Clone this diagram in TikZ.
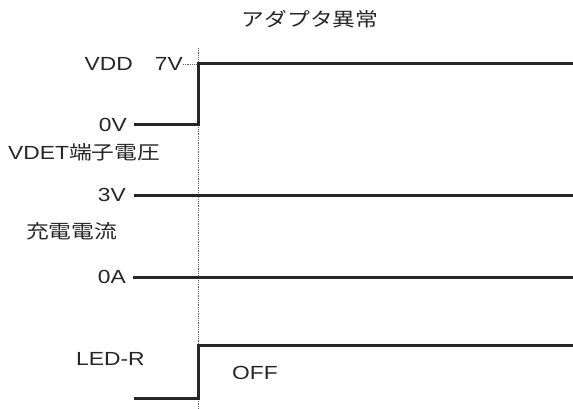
\documentclass[tikz,border=0pt]{standalone}
\usepackage{fontspec}
\setmainfont{Liberation Sans}[FakeStretch=1.2]
\newfontfamily\cjk{Noto Sans CJK JP}[FakeStretch=1.2]
\begin{document}
\begin{tikzpicture}[x=1pt,y=-1pt,
  lbl/.style={inner sep=0pt, font=\fontsize{19}{23}\selectfont, text height=13.7pt, text depth=0pt, text=black!85},
  wave/.style={line width=3pt, line join=miter, black!85},
  guide/.style={densely dotted, line width=0.8pt, black!60}]
\useasboundingbox (0,0) rectangle (573,409);
% labels
\node[lbl] (title) at (310,20) {\cjk アダプタ異常};
\node[lbl,anchor=east] (vdd) at (133,64) {VDD};
\node[lbl,anchor=east] (v7) at (183,64) {7V};
\node[lbl,anchor=east] (v0) at (127,125) {0V};
\node[lbl,anchor=west] (vdet) at (8,153) {VDET{\cjk 端子電圧}};
\node[lbl,anchor=east] (v3) at (126,195) {3V};
\node[lbl,anchor=west] (ichg) at (26,232) {\cjk 充電電流};
\node[lbl,anchor=east] (a0) at (126,277) {0A};
\node[lbl,anchor=west] (led) at (76,359) {LED-R};
\node[lbl,anchor=west] (off) at (232,373) {OFF};
% coordinates
\coordinate (gtop) at (198,48);
\coordinate (gbot) at (198,409);
\coordinate (g7) at (198,64);
\coordinate (vddA) at (134,125);
\coordinate (vddB) at (198,125);
\coordinate (vddC) at (198,64);
\coordinate (vddD) at (573,64);
\coordinate (vdetA) at (134,195);
\coordinate (vdetB) at (573,195);
\coordinate (iA) at (133,277);
\coordinate (iB) at (573,277);
\coordinate (ledA) at (134,398);
\coordinate (ledB) at (198,398);
\coordinate (ledC) at (198,345);
\coordinate (ledD) at (573,345);
% guides
\draw[guide] (gtop) -- (gbot);
\draw[guide] (v7.east) -- (g7);
% waveforms
\draw[wave] (vddA) -- (vddB) -- (vddC) -- (vddD);
\draw[wave] (vdetA) -- (vdetB);
\draw[wave] (iA) -- (iB);
\draw[wave] (ledA) -- (ledB) -- (ledC) -- (ledD);
\end{tikzpicture}
\end{document}
